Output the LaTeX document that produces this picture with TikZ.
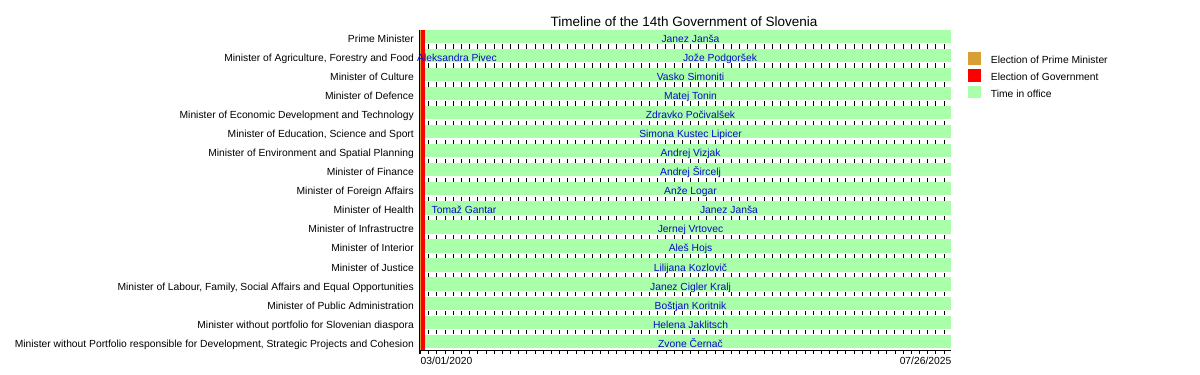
\documentclass[tikz,border=0pt]{standalone}
\usepackage{fontspec}
\setmainfont{Liberation Sans}

\definecolor{officegreen}{RGB}{170,255,170}
\definecolor{pmorange}{RGB}{216,160,52}
\definecolor{govred}{RGB}{255,0,0}
\definecolor{holderblue}{RGB}{10,10,200}

\tikzset{
  smalltext/.style={inner sep=0pt, font=\fontsize{10.3}{12}\selectfont},
  officelabel/.style={smalltext, anchor=base east},
  holdername/.style={smalltext, anchor=base, text=holderblue},
  legendlabel/.style={smalltext, anchor=base west},
}

\begin{document}
\begin{tikzpicture}[x=1pt,y=-1pt]
        \useasboundingbox (0,0) rectangle (1200,375);

        % Title
        \node[inner sep=0pt, anchor=base, font=\fontsize{13.5}{15}\selectfont] (title) at (684,26) {Timeline of the 14th Government of Slovenia};

        % Time in office bars
        \foreach \i in {0,...,16}
          \fill[officegreen] (420.5,29.7+19.06*\i) rectangle (951,43+19.06*\i);

        % Monthly grid between the rows
        \foreach \i in {0,...,15}
          \foreach \m in {1,...,64}
            \draw[line width=0.9pt] (420.5+8.18*\m,44.3+19.06*\i) -- ++(0,4.2);

        % Election of Prime Minister and of Government
        \draw[line width=0.8pt] (419.5,29.7) -- (419.5,353.5);
        \fill[pmorange] (420,29.7) rectangle (421.3,350.5);
        \fill[govred] (421.3,29.7) rectangle (425,350.5);

        % Offices and office holders
        \foreach \i/\office/\holder in {
            0/{Prime Minister}/{Janez Janša},
            2/{Minister of Culture}/{Vasko Simoniti},
            3/{Minister of Defence}/{Matej Tonin},
            4/{Minister of Economic Development and Technology}/{Zdravko Počivalšek},
            5/{Minister of Education, Science and Sport}/{Simona Kustec Lipicer},
            6/{Minister of Environment and Spatial Planning}/{Andrej Vizjak},
            7/{Minister of Finance}/{Andrej Šircelj},
            8/{Minister of Foreign Affairs}/{Anže Logar},
            10/{Minister of Infrastructre}/{Jernej Vrtovec},
            11/{Minister of Interior}/{Aleš Hojs},
            12/{Minister of Justice}/{Lilijana Kozlovič},
            13/{Minister of Labour, Family, Social Affairs and Equal Opportunities}/{Janez Cigler Kralj},
            14/{Minister of Public Administration}/{Boštjan Koritnik},
            15/{Minister without portfolio for Slovenian diaspora}/{Helena Jaklitsch},
            16/{Minister without Portfolio responsible for Development, Strategic Projects and Cohesion}/{Zvone Černač}} {
          \node[officelabel] (office\i) at (414,42.3+19.06*\i) {\office};
          \node[holdername] (holder\i) at (690.5,42.3+19.06*\i) {\holder};
        }

        % Offices with two holders
        \node[officelabel] (office1) at (414,61.36) {Minister of Agriculture, Forestry and Food};
        \node[holdername] (holder1a) at (457,61.36) {Aleksandra Pivec};
        \node[holdername] (holder1b) at (720,61.36) {Jože Podgoršek};
        \node[officelabel] (office9) at (414,213.84) {Minister of Health};
        \node[holdername] (holder9a) at (464,213.84) {Tomaž Gantar};
        \node[holdername] (holder9b) at (729,213.84) {Janez Janša};

        % Time axis
        \draw[line width=0.8pt] (419.5,350.5) -- (951,350.5);
        \foreach \m in {0,...,64}
          \draw[line width=0.8pt] (420.5+8.18*\m,350.5) -- ++(0,3);
        \node[smalltext, anchor=base west] (startdate) at (420.5,364.5) {03/01/2020};
        \node[smalltext, anchor=base east] (enddate) at (951.5,364.5) {07/26/2025};

        % Legend
        \fill[pmorange] (968.3,52.3) rectangle (981,65);
        \node[legendlabel] (pmkey) at (990.7,63.3) {Election of Prime Minister};
        \fill[govred] (968.3,69) rectangle (981,81.7);
        \node[legendlabel] (govkey) at (990.7,80.2) {Election of Government};
        \fill[officegreen] (968.3,85.7) rectangle (981,98.3);
        \node[legendlabel] (officekey) at (990.7,97.1) {Time in office};
      \end{tikzpicture}
\end{document}
